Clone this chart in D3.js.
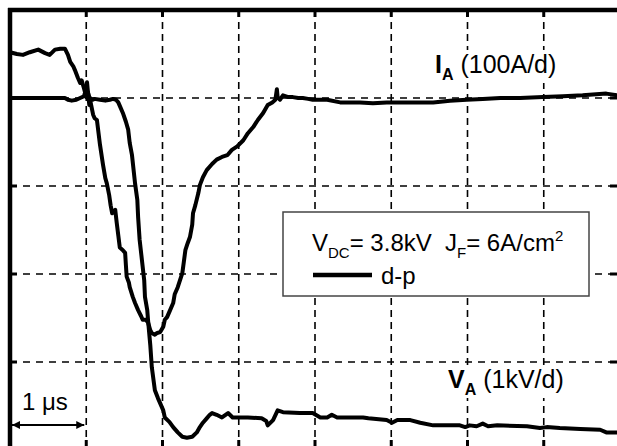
<!DOCTYPE html>
<html>
<head>
<meta charset="utf-8">
<script src="https://cdn.jsdelivr.net/npm/d3@7/dist/d3.min.js"></script>
<style>
html,body{margin:0;padding:0;background:#fff;overflow:hidden;}
svg{display:block;}
text{font-family:"Liberation Sans",Arial,Helvetica,sans-serif;fill:#000;}
</style>
</head>
<body>
<svg id="chart" width="617" height="446"></svg>
<script>
// ---- data (time in µs, current in A, voltage in kV) ----
const iaTime = [0,0.09,0.17,0.26,0.37,0.46,0.52,0.59,0.66,0.72,0.76,0.79,0.83,0.85,0.89,0.92,0.94,0.97,1.00,1.02,1.05,1.09,1.11,1.14,1.18,1.22,1.25,1.27,1.30,1.32,1.34,1.38,1.40,1.42,1.44,1.48,1.51,1.52,1.53,1.56,1.57,1.61,1.64,1.68,1.72,1.74,1.78,1.81,1.84,1.86,1.90,1.93,1.97,2.01,2.03,2.06,2.10,2.14,2.16,2.20,2.23,2.26,2.28,2.30,2.33,2.36,2.39,2.40,2.43,2.47,2.49,2.53,2.58,2.65,2.71,2.78,2.85,2.91,2.98,3.06,3.12,3.19,3.25,3.32,3.38,3.44,3.48,3.50,3.51,3.54,3.58,3.65,3.71,3.78,3.84,3.91,3.97,4.16,4.33,4.59,4.76,4.94,5.25,5.55,5.77,5.99,6.20,6.43,6.69,6.99,7.25,7.51,7.82,7.96];
const iaValue = [52,50,49,52,55,51,49,55,56,56,49,41,36,32,23,17,20,11,1,7,-2,-19,-23,-25,-53,-76,-91,-97,-110,-122,-131,-127,-142,-156,-170,-173,-176,-190,-203,-210,-215,-226,-233,-241,-248,-252,-252,-255,-264,-267,-269,-267,-266,-260,-252,-249,-241,-233,-223,-215,-207,-199,-186,-173,-165,-158,-144,-131,-122,-108,-99,-90,-82,-75,-70,-67,-65,-59,-55,-48,-40,-33,-25,-17,-8,-5,-2,10,1,-2,3,1,1,0,0,-1,-2,-2,-5,-5,-6,-5,-5,-5,-3,-2,-1,0,0,1,2,3,5,3];

const vaTime = [0,0.72,0.76,0.81,0.87,0.92,0.97,1.00,1.01,1.02,1.04,1.05,1.08,1.11,1.18,1.25,1.31,1.35,1.39,1.42,1.44,1.48,1.52,1.55,1.57,1.60,1.64,1.67,1.68,1.70,1.73,1.76,1.77,1.80,1.81,1.84,1.86,1.90,1.94,1.97,2.01,2.03,2.09,2.14,2.20,2.26,2.32,2.39,2.45,2.49,2.53,2.58,2.62,2.65,2.71,2.78,2.86,2.92,3.12,3.30,3.36,3.38,3.45,3.51,3.58,3.80,3.97,4.07,4.16,4.22,4.29,4.63,4.70,4.94,5.01,5.08,5.25,5.38,5.55,5.90,5.97,6.03,6.12,6.20,6.27,6.39,6.78,6.95,7.04,7.21,7.48,7.74,7.82,7.96];
const vaValue = [0,0,-0.02,-0.03,-0.02,0,0.02,0.11,0.18,0.09,-0.08,0,-0.02,-0.01,-0.02,-0.03,-0.02,-0.01,-0.02,-0.05,-0.09,-0.17,-0.27,-0.36,-0.51,-0.65,-0.97,-1.16,-1.35,-1.61,-1.84,-2.07,-2.26,-2.41,-2.52,-2.81,-3.06,-3.32,-3.41,-3.47,-3.55,-3.63,-3.68,-3.74,-3.80,-3.85,-3.86,-3.85,-3.80,-3.74,-3.69,-3.64,-3.60,-3.58,-3.60,-3.63,-3.58,-3.63,-3.63,-3.64,-3.67,-3.72,-3.66,-3.55,-3.57,-3.58,-3.58,-3.63,-3.63,-3.60,-3.63,-3.63,-3.64,-3.66,-3.69,-3.66,-3.66,-3.69,-3.72,-3.72,-3.74,-3.72,-3.73,-3.70,-3.73,-3.72,-3.73,-3.75,-3.74,-3.75,-3.76,-3.77,-3.80,-3.80];

const timeTicks = [1,2,3,4,5,6,7];        // µs, vertical grid (1 µs/div)
const currentTicks = [0,-100,-200,-300];  // A, horizontal grid (100 A/div)

// ---- scales ----
const W = 617, H = 446;
const x = d3.scaleLinear().domain([0, 8]).range([10, 620]);
const yI = d3.scaleLinear().domain([-400, 100]).range([450, 10]);
const yV = d3.scaleLinear().domain([-4, 1]).range([450, 10]);

const svg = d3.select("#chart");

// ---- grid ----
const grid = svg.append("g");
grid.selectAll("line.v").data(timeTicks).join("line")
  .attr("x1", d => x(d)).attr("x2", d => x(d))
  .attr("y1", 10).attr("y2", H)
  .attr("stroke", "#000").attr("stroke-width", 1.6)
  .attr("stroke-dasharray", "7,5");
grid.selectAll("line.h").data(currentTicks).join("line")
  .attr("x1", 10).attr("x2", W)
  .attr("y1", d => yI(d)).attr("y2", d => yI(d))
  .attr("stroke", "#000").attr("stroke-width", 1.6)
  .attr("stroke-dasharray", "7,6");

// ---- traces ----
const ia = iaTime.map((t, i) => [t, iaValue[i]]);
const va = vaTime.map((t, i) => [t, vaValue[i]]);
const lineI = d3.line().x(d => x(d[0])).y(d => yI(d[1]));
const lineV = d3.line().x(d => x(d[0])).y(d => yV(d[1]));
svg.append("path").datum(ia).attr("d", lineI)
  .attr("fill", "none").attr("stroke", "#000").attr("stroke-width", 4)
  .attr("stroke-linejoin", "round").attr("stroke-linecap", "round");
svg.append("path").datum(va).attr("d", lineV)
  .attr("fill", "none").attr("stroke", "#000").attr("stroke-width", 4)
  .attr("stroke-linejoin", "round").attr("stroke-linecap", "round");

// ---- frame (top & left borders) with inward ticks ----
const frame = svg.append("g");
frame.append("line").attr("x1", 8).attr("x2", W).attr("y1", 10).attr("y2", 10)
  .attr("stroke", "#000").attr("stroke-width", 4.5);
frame.append("line").attr("x1", 10).attr("x2", 10).attr("y1", 8).attr("y2", H)
  .attr("stroke", "#000").attr("stroke-width", 4.5);
frame.selectAll("line.tt").data(timeTicks).join("line")
  .attr("x1", d => x(d)).attr("x2", d => x(d)).attr("y1", 10).attr("y2", 17)
  .attr("stroke", "#000").attr("stroke-width", 3);
frame.selectAll("line.tb").data(timeTicks).join("line")
  .attr("x1", d => x(d)).attr("x2", d => x(d)).attr("y1", 440).attr("y2", H)
  .attr("stroke", "#000").attr("stroke-width", 3);
frame.selectAll("line.tl").data(currentTicks).join("line")
  .attr("x1", 10).attr("x2", 17).attr("y1", d => yI(d)).attr("y2", d => yI(d))
  .attr("stroke", "#000").attr("stroke-width", 3);
frame.selectAll("line.tr").data(currentTicks).join("line")
  .attr("x1", 610).attr("x2", W).attr("y1", d => yI(d)).attr("y2", d => yI(d))
  .attr("stroke", "#000").attr("stroke-width", 3);

// ---- helper for text with subscript/superscript ----
function richText(g, xPos, yPos, parts, size) {
  const t = g.append("text").attr("x", xPos).attr("y", yPos).style("font-size", size + "px");
  let shift = 0;
  parts.forEach(p => {
    const ts = t.append("tspan").text(p.t);
    let target = 0, fs = size;
    if (p.sub) { target = Math.round(size * 0.28); fs = Math.round(size * 0.62); }
    if (p.sup) { target = -Math.round(size * 0.42); fs = Math.round(size * 0.62); }
    ts.attr("dy", target - shift).style("font-size", fs + "px");
    if (p.bold) ts.style("font-weight", "bold");
    shift = target;
  });
  return t;
}
function withBg(g, buildFn) {
  const bg = g.append("rect").attr("fill", "#fff");
  const t = buildFn();
  const b = t.node().getBBox();
  bg.attr("x", b.x - 2).attr("y", b.y).attr("width", b.width + 4).attr("height", b.height);
  return t;
}

// ---- labels ----
const labels = svg.append("g");
withBg(labels, () => richText(labels, 435, 73,
  [{t: "I", bold: true}, {t: "A", sub: true, bold: true}, {t: " (100A/d)"}], 25));
withBg(labels, () => richText(labels, 448, 388,
  [{t: "V", bold: true}, {t: "A", sub: true, bold: true}, {t: " (1kV/d)"}], 25));

// ---- legend ----
const legend = svg.append("g");
legend.append("rect").attr("x", 283).attr("y", 212).attr("width", 306).attr("height", 84)
  .attr("fill", "#fff").attr("stroke", "#444").attr("stroke-width", 1.5);
richText(legend, 312, 251, [{t: "V"}, {t: "DC", sub: true}, {t: "= 3.8kV"}], 24);
richText(legend, 445, 251, [{t: "J"}, {t: "F", sub: true}, {t: "= 6A/cm"}, {t: "2", sup: true}], 24);
legend.append("line").attr("x1", 313).attr("x2", 372).attr("y1", 275).attr("y2", 275)
  .attr("stroke", "#000").attr("stroke-width", 4.5);
legend.append("text").attr("x", 381).attr("y", 284).style("font-size", "24px").text("d-p");

// ---- 1 µs scale marker ----
const defs = svg.append("defs");
defs.append("marker").attr("id", "ah").attr("viewBox", "0 0 10 10")
  .attr("refX", 10).attr("refY", 5).attr("markerWidth", 12).attr("markerHeight", 8)
  .attr("markerUnits", "userSpaceOnUse").attr("orient", "auto-start-reverse")
  .append("path").attr("d", "M0,0L10,5L0,10Z").attr("fill", "#000");
svg.append("line").attr("x1", x(0) + 2).attr("x2", x(1) - 2).attr("y1", 425).attr("y2", 425)
  .attr("stroke", "#000").attr("stroke-width", 2)
  .attr("marker-start", "url(#ah)").attr("marker-end", "url(#ah)");
svg.append("text").attr("x", 22).attr("y", 410).style("font-size", "24px").text("1 μs");
</script>
</body>
</html>
